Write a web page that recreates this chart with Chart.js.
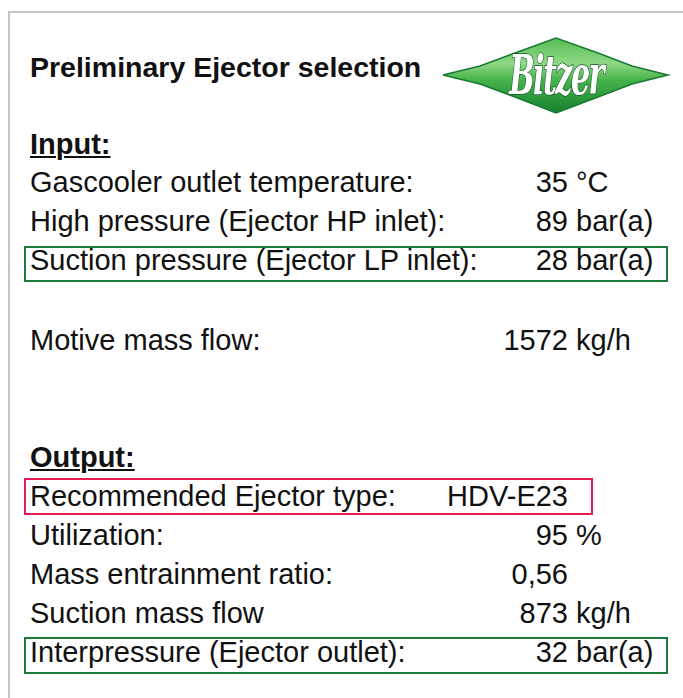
<!DOCTYPE html>
<html>
<head>
<meta charset="utf-8">
<script src="https://cdn.jsdelivr.net/npm/chart.js@4.4.1/dist/chart.umd.min.js"></script>
<style>
  html, body { margin: 0; padding: 0; background: #fff; }
  #sheet { position: relative; width: 683px; height: 698px; overflow: hidden;
           font-family: "Liberation Sans", Arial, sans-serif; color: #111; }
  #frame { position: absolute; left: 8px; top: 11px; width: 720px; height: 720px;
           border: 2px solid #c4c4c4; }
  .t { position: absolute; white-space: nowrap; }
  .b { font-weight: bold; }
  .u { text-decoration: underline; text-decoration-thickness: 2px; text-underline-offset: 2px; }
  .r { text-align: right; }
  .box { position: absolute; box-sizing: border-box; border: 2px solid #1e7a3c; }
  .box.red { border-color: #e31b55; }
  #logo { position: absolute; left: 438px; top: 34px; width: 236px; height: 84px; }
  #logoText { position: absolute; left: 438px; top: 48px; width: 236px; text-align: center;
              font-family: "DejaVu Serif Condensed", "DejaVu Serif", serif; font-style: italic; font-weight: bold;
              font-size: 42px; line-height: 56px; color: #fff; letter-spacing: -2px;
              transform: scale(0.8, 1.3); transform-origin: 50% 50%;
              -webkit-text-stroke: 1.2px #14562a; paint-order: stroke fill; }
</style>
</head>
<body>
<div id="sheet">
  <div id="frame"></div>
  <canvas id="logo" width="236" height="84"></canvas>
  <div id="logoText">Bitzer</div>
</div>
<script>
// panel data
var titleText = "Preliminary Ejector selection";
var inputHeader = "Input:";
var inputLabels = ["Gascooler outlet temperature:", "High pressure (Ejector HP inlet):", "Suction pressure (Ejector LP inlet):"];
var inputValues = ["35", "89", "28"];
var inputUnits = ["°C", "bar(a)", "bar(a)"];
var motiveLabel = "Motive mass flow:";
var motiveValue = "1572";
var motiveUnit = "kg/h";
var outputHeader = "Output:";
var outputLabels = ["Recommended Ejector type:", "Utilization:", "Mass entrainment ratio:", "Suction mass flow", "Interpressure (Ejector outlet):"];
var outputValues = ["HDV-E23", "95", "0,56", "873", "32"];
var outputUnits = ["", "%", "", "kg/h", "bar(a)"];

// logo outline (page pixels)
var logoX = [443, 480, 515, 556, 598, 632, 668, 632, 598, 556, 515, 480, 443];
var logoY = [75, 66, 53, 38, 53, 66, 75, 84, 97, 113, 97, 84, 75];

(function () {
  "use strict";

  var sheet = document.getElementById("sheet");
  var SIZE = 29;

  // ── text helper: place by baseline ─────────────────────────────────
  function put(text, x, baseline, cls, alignRight, size) {
    var s = size || SIZE;
    var d = document.createElement("div");
    d.className = "t " + (cls || "");
    d.textContent = text;
    d.style.fontSize = s + "px";
    d.style.lineHeight = s + "px";
    d.style.top = (baseline - 0.8465 * s) + "px";
    if (alignRight) {
      d.style.right = (683 - x) + "px";
      d.classList.add("r");
    } else {
      d.style.left = x + "px";
    }
    sheet.appendChild(d);
  }

  function box(x1, y1, x2, y2, red) {
    var b = document.createElement("div");
    b.className = "box" + (red ? " red" : "");
    b.style.left = x1 + "px";
    b.style.top = y1 + "px";
    b.style.width = (x2 - x1) + "px";
    b.style.height = (y2 - y1) + "px";
    sheet.appendChild(b);
  }

  var LX = 30, VX = 568, UX = 576;

  function row(label, value, unit, baseline) {
    put(label, LX, baseline);
    put(value, VX, baseline, "", true);
    if (unit) put(unit, UX, baseline);
  }

  put(titleText, LX, 77, "b", false, 28.5);
  put(inputHeader, LX, 155, "b u");

  var inBase = [193, 232, 271];
  inputLabels.forEach(function (l, i) { row(l, inputValues[i], inputUnits[i], inBase[i]); });
  box(24, 246, 668, 282);

  row(motiveLabel, motiveValue, motiveUnit, 351);

  put(outputHeader, LX, 468, "b u");
  var outBase = [507, 546, 585, 624, 663];
  outputLabels.forEach(function (l, i) { row(l, outputValues[i], outputUnits[i], outBase[i]); });
  box(24, 478, 593, 515, true);
  box(24, 637, 668, 674);

  // ── logo shape via Chart.js ────────────────────────────────────────
  var pts = logoX.map(function (x, i) { return { x: x, y: logoY[i] }; });

  new Chart(document.getElementById("logo").getContext("2d"), {
    type: "scatter",
    data: {
      datasets: [{
        data: pts,
        showLine: true,
        fill: "shape",
        pointRadius: 0,
        borderWidth: 1.5,
        borderColor: "#187a32",
        backgroundColor: function (ctx) {
          var area = ctx.chart.chartArea;
          if (!area) return "#3aa648";
          var g = ctx.chart.ctx.createLinearGradient(0, area.top, 0, area.bottom);
          g.addColorStop(0, "#4cb84c");
          g.addColorStop(0.35, "#8fd985");
          g.addColorStop(0.55, "#46b24a");
          g.addColorStop(1, "#0c7a2c");
          return g;
        }
      }]
    },
    options: {
      responsive: false,
      animation: false,
      layout: { padding: 0 },
      plugins: { legend: { display: false }, tooltip: { enabled: false } },
      scales: {
        x: { type: "linear", display: false, min: 438, max: 674 },
        y: { type: "linear", display: false, min: 34, max: 118, reverse: true }
      }
    }
  });
})();
</script>
</body>
</html>
